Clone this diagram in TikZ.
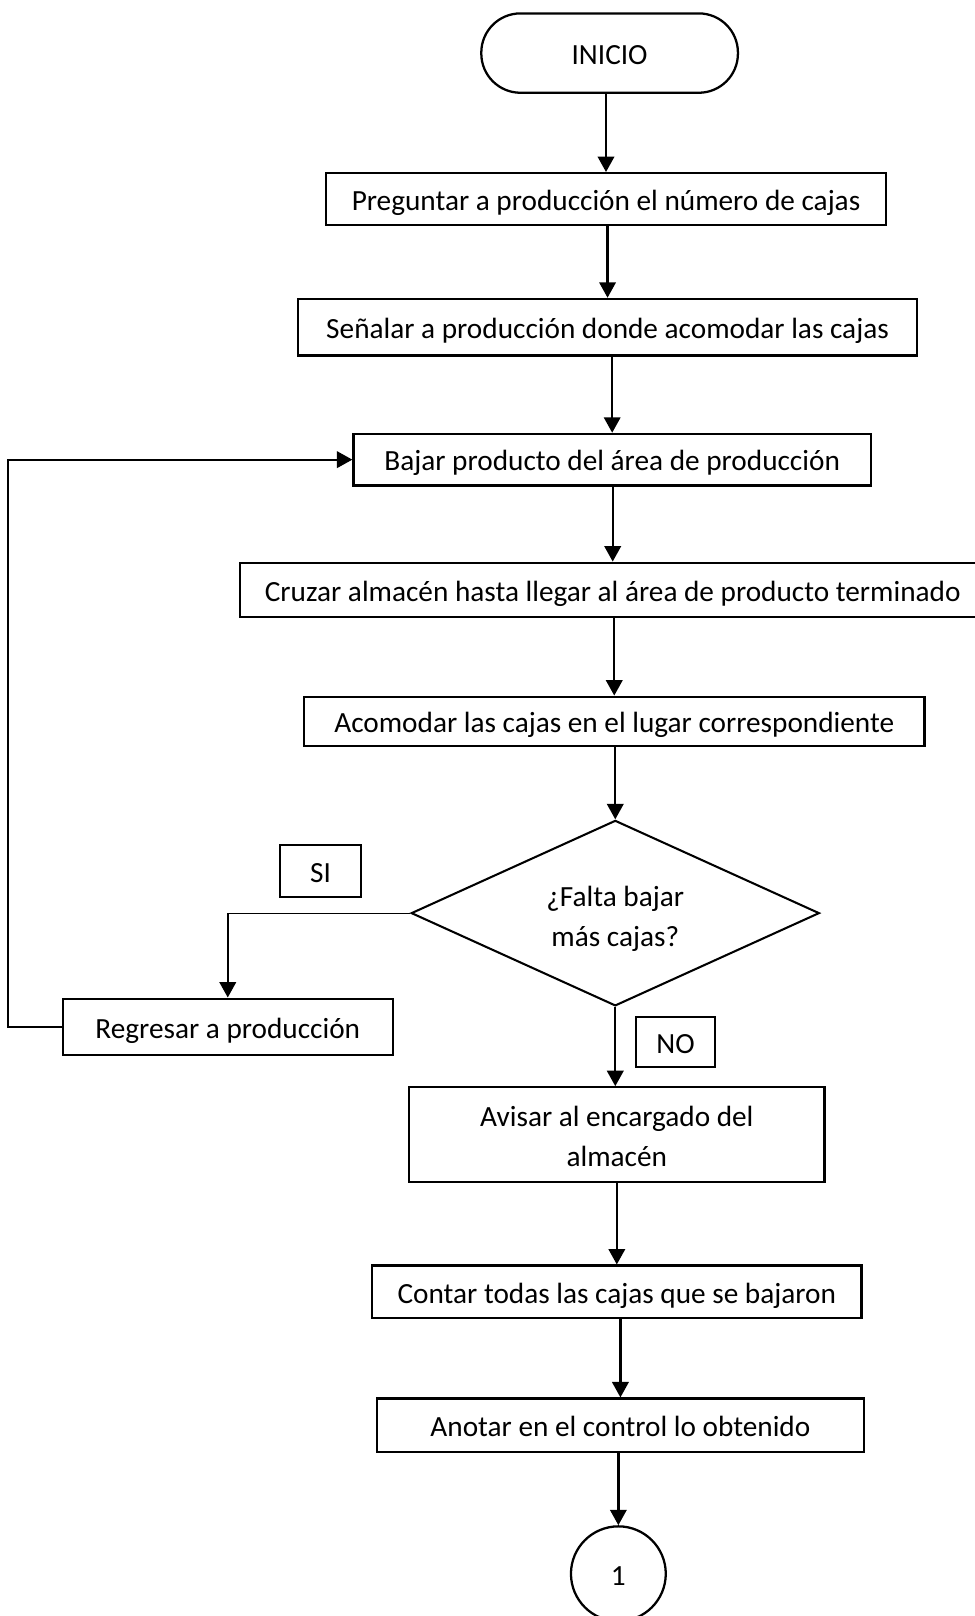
\documentclass[tikz,border=0pt]{standalone}
\usepackage{fontspec}
\setmainfont{Carlito}
\usetikzlibrary{shapes.geometric,arrows.meta}
\begin{document}
\begin{tikzpicture}[x=0.5pt,y=-0.5pt,
  every node/.style={font=\fontsize{14.2}{19.5}\selectfont},
  oneline/.style={text height=11pt,text depth=0pt},
  proc/.style={draw,line width=1.1pt,rectangle,inner sep=0pt,align=center},
  line/.style={proc,oneline},
  term/.style={line,rounded corners=19pt},
  decision/.style={draw,line width=1pt,diamond,inner sep=0pt},
  connector/.style={draw,line width=1.1pt,circle,inner sep=0pt,oneline},
  tag/.style={draw,line width=1.1pt,rectangle,inner sep=0pt,oneline},
  arr/.style={line width=1.1pt,-{Triangle[width=8pt,length=7.5pt]}},
  thinline/.style={line width=0.6pt}]
\useasboundingbox (0,0) rectangle (946,1568);

% process chain
\node[term,minimum width=124.5pt,minimum height=38.5pt] (inicio) at (591.5,51.5) {INICIO};
\node[line,minimum width=272pt,minimum height=25pt] (b1) at (588,193) {Preguntar a producción el número de cajas};
\node[line,minimum width=300.5pt,minimum height=27.5pt] (b2) at (589.5,317.5) {Señalar a producción donde acomodar las cajas};
\node[line,minimum width=251pt,minimum height=25pt] (b3) at (594,446) {Bajar producto del área de producción};
\node[line,minimum width=361.5pt,minimum height=26.5pt] (b4) at (594.5,572.5) {Cruzar almacén hasta llegar al área de producto terminado};
\node[line,minimum width=301pt,minimum height=24pt] (b5) at (596,700) {Acomodar las cajas en el lugar correspondiente};
\node[decision,minimum width=198pt,minimum height=90pt,
  label={[name=diatext,align=center,yshift=-2.6pt]center:¿Falta bajar\\más cajas?}] (dia) at (597,886) {};
\node[tag,minimum width=39pt,minimum height=25pt] (si) at (311,845) {SI};
\node[line,minimum width=160pt,minimum height=27.5pt] (reg) at (221,996.5) {Regresar a producción};
\node[tag,minimum width=38.5pt,minimum height=24pt] (no) at (655.5,1011) {NO};
\node[proc,minimum width=201.5pt,minimum height=46pt,
  label={[name=avisartext,align=center,yshift=-1pt]center:Avisar al encargado del\\almacén}] (avisar) at (598.5,1101) {};
\node[line,minimum width=237.5pt,minimum height=25.5pt] (contar) at (598.5,1253.5) {Contar todas las cajas que se bajaron};
\node[line,minimum width=236pt,minimum height=26pt] (anotar) at (602,1383) {Anotar en el control lo obtenido};
\node[connector,minimum size=46pt] (fin) at (600,1527) {1};

% straight flow
\draw[arr] (b1.north |- inicio.south) -- (b1.north);
\draw[arr] (b2.north |- b1.south) -- (b2.north);
\draw[arr] (b3.north |- b2.south) -- (b3.north);
\draw[arr] (b4.north |- b3.south) -- (b4.north);
\draw[arr] (b5.north |- b4.south) -- (b5.north);
\draw[arr] (dia.north |- b5.south) -- (dia.north);
\draw[arr] (dia.south) -- (dia.south |- avisar.north);
\draw[arr] (contar.north |- avisar.south) -- (contar.north);
\draw[arr] (anotar.north |- contar.south) -- (anotar.north);
\draw[arr] (fin.north |- anotar.south) -- (fin.north);

% "SI" branch and loop back
\coordinate (siturn) at (dia.west -| reg.north);
\draw[thinline] (dia.west) -- (siturn);
\draw[arr] (siturn) -- (reg.north);
\draw[arr] (reg.west) -- ++(-52,0) |- (b3.west);
\end{tikzpicture}
\end{document}
